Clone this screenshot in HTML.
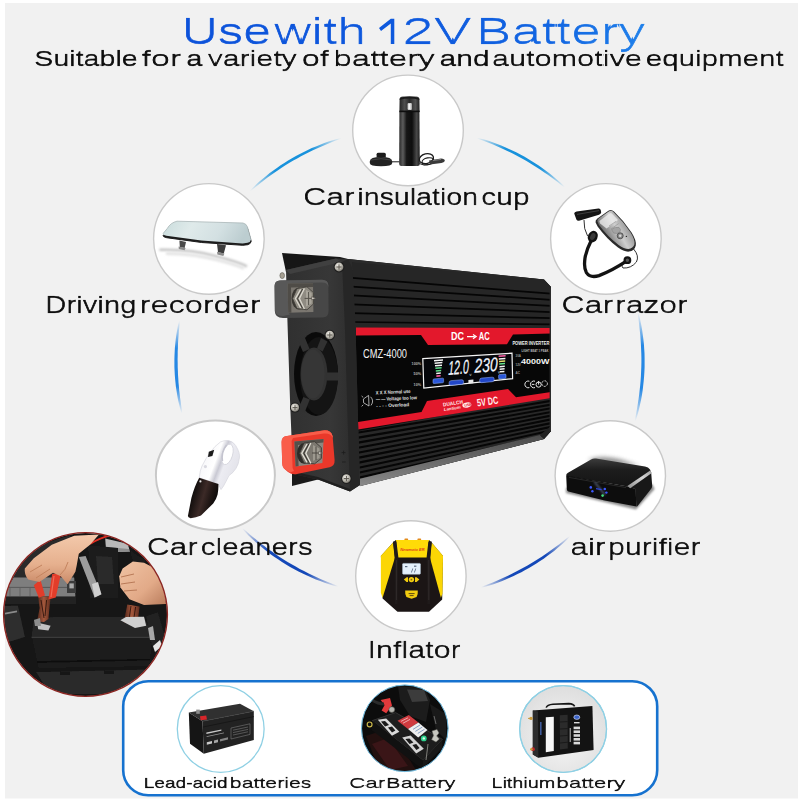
<!DOCTYPE html>
<html>
<head>
<meta charset="utf-8">
<title>Use with 12V Battery</title>
<style>
html,body{margin:0;padding:0;background:#fff;}
body{width:800px;height:800px;overflow:hidden;font-family:"Liberation Sans",sans-serif;}
svg{display:block;}
text{font-family:"Liberation Sans",sans-serif;}
</style>
</head>
<body>
<svg width="800" height="800" viewBox="0 0 800 800">
<defs>
  <linearGradient id="gTitle" gradientUnits="userSpaceOnUse" x1="185" y1="0" x2="645" y2="0">
    <stop offset="0" stop-color="#0c52da"/>
    <stop offset="0.55" stop-color="#0e5ade"/>
    <stop offset="0.8" stop-color="#1266e2"/>
    <stop offset="1" stop-color="#1f80ea"/>
  </linearGradient>
</defs>
<!-- background -->
<rect x="0" y="0" width="800" height="800" fill="#ffffff"/>
<rect x="5" y="3" width="793" height="795.5" fill="#f1f1f1"/>
<defs>
<linearGradient id="ga1" gradientUnits="userSpaceOnUse" x1="250.0" y1="191.2" x2="341.4" y2="138.2"><stop offset="0" stop-color="#1892dc" stop-opacity="0"/><stop offset="0.3" stop-color="#1892dc" stop-opacity="1"/><stop offset="0.7" stop-color="#1892dc" stop-opacity="1"/><stop offset="1" stop-color="#1892dc" stop-opacity="0"/></linearGradient>
<linearGradient id="ga2" gradientUnits="userSpaceOnUse" x1="476.8" y1="137.9" x2="564.8" y2="187.3"><stop offset="0" stop-color="#1892dc" stop-opacity="0"/><stop offset="0.3" stop-color="#1892dc" stop-opacity="1"/><stop offset="0.7" stop-color="#1892dc" stop-opacity="1"/><stop offset="1" stop-color="#1892dc" stop-opacity="0"/></linearGradient>
<linearGradient id="ga3" gradientUnits="userSpaceOnUse" x1="179.5" y1="320.5" x2="182.0" y2="413.5"><stop offset="0" stop-color="#2688e4" stop-opacity="0"/><stop offset="0.3" stop-color="#2688e4" stop-opacity="1"/><stop offset="0.7" stop-color="#2688e4" stop-opacity="1"/><stop offset="1" stop-color="#2688e4" stop-opacity="0"/></linearGradient>
<linearGradient id="ga4" gradientUnits="userSpaceOnUse" x1="637.9" y1="312.5" x2="635.0" y2="421.4"><stop offset="0" stop-color="#2688e4" stop-opacity="0"/><stop offset="0.3" stop-color="#2688e4" stop-opacity="1"/><stop offset="0.7" stop-color="#2688e4" stop-opacity="1"/><stop offset="1" stop-color="#2688e4" stop-opacity="0"/></linearGradient>
<linearGradient id="ga5" gradientUnits="userSpaceOnUse" x1="242.3" y1="528.2" x2="338.4" y2="586.6"><stop offset="0" stop-color="#1448b8" stop-opacity="0"/><stop offset="0.3" stop-color="#1448b8" stop-opacity="1"/><stop offset="0.7" stop-color="#1448b8" stop-opacity="1"/><stop offset="1" stop-color="#1448b8" stop-opacity="0"/></linearGradient>
<linearGradient id="ga6" gradientUnits="userSpaceOnUse" x1="570.0" y1="536.1" x2="480.9" y2="587.5"><stop offset="0" stop-color="#1448b8" stop-opacity="0"/><stop offset="0.3" stop-color="#1448b8" stop-opacity="1"/><stop offset="0.7" stop-color="#1448b8" stop-opacity="1"/><stop offset="1" stop-color="#1448b8" stop-opacity="0"/></linearGradient>
</defs>
<!-- ring arcs -->
<g id="ring">
<path d="M249.8 191.0 L252.9 187.7 L256.1 184.6 L259.4 181.6 L262.8 178.7 L266.2 175.9 L269.7 173.1 L273.3 170.5 L276.9 167.9 L280.6 165.3 L284.3 162.9 L288.1 160.5 L292.0 158.3 L295.9 156.1 L299.8 153.9 L303.8 151.9 L307.8 150.0 L311.8 148.1 L315.9 146.4 L320.1 144.7 L324.3 143.1 L328.5 141.6 L332.7 140.2 L337.0 139.0 L341.3 137.9 L341.5 138.4 L337.3 140.1 L333.2 141.6 L329.1 143.3 L325.0 144.9 L320.9 146.7 L316.9 148.5 L312.9 150.3 L308.9 152.2 L304.9 154.2 L301.0 156.3 L297.2 158.4 L293.3 160.6 L289.5 162.8 L285.8 165.1 L282.0 167.5 L278.4 169.9 L274.7 172.4 L271.1 175.0 L267.5 177.6 L264.0 180.3 L260.5 183.0 L257.1 185.8 L253.7 188.6 L250.2 191.3Z" fill="url(#ga1)"/>
<path d="M476.9 137.7 L481.1 138.7 L485.1 139.8 L489.2 141.1 L493.2 142.5 L497.2 144.0 L501.2 145.5 L505.1 147.2 L509.0 148.9 L512.9 150.7 L516.7 152.6 L520.4 154.6 L524.2 156.6 L527.9 158.8 L531.5 161.0 L535.1 163.2 L538.7 165.6 L542.2 168.0 L545.6 170.5 L549.0 173.1 L552.4 175.7 L555.6 178.4 L558.9 181.2 L562.0 184.1 L565.0 187.1 L564.6 187.5 L561.2 184.9 L557.9 182.3 L554.6 179.8 L551.2 177.3 L547.8 174.8 L544.3 172.4 L540.8 170.0 L537.3 167.7 L533.7 165.4 L530.1 163.2 L526.5 161.1 L522.9 159.0 L519.2 157.0 L515.5 155.0 L511.7 153.1 L507.9 151.2 L504.1 149.4 L500.3 147.7 L496.4 146.0 L492.5 144.3 L488.6 142.8 L484.7 141.2 L480.7 139.8 L476.8 138.2Z" fill="url(#ga2)"/>
<path d="M179.3 320.4 L178.2 324.2 L177.5 328.0 L176.8 331.9 L176.2 335.8 L175.7 339.7 L175.3 343.6 L174.9 347.5 L174.7 351.4 L174.5 355.4 L174.4 359.3 L174.4 363.2 L174.4 367.2 L174.6 371.1 L174.8 375.0 L175.1 378.9 L175.5 382.8 L175.9 386.8 L176.5 390.6 L177.1 394.5 L177.8 398.4 L178.6 402.2 L179.5 406.1 L180.5 409.9 L181.7 413.6 L182.2 413.5 L181.8 409.6 L181.2 405.7 L180.7 401.9 L180.1 398.0 L179.7 394.2 L179.2 390.3 L178.9 386.4 L178.5 382.6 L178.3 378.7 L178.0 374.8 L177.9 370.9 L177.7 367.1 L177.7 363.2 L177.6 359.3 L177.7 355.4 L177.7 351.6 L177.9 347.7 L178.0 343.8 L178.2 339.9 L178.5 336.0 L178.8 332.2 L179.2 328.3 L179.6 324.4 L179.8 320.5Z" fill="url(#ga3)"/>
<path d="M638.1 312.4 L639.5 316.8 L640.5 321.3 L641.4 325.8 L642.2 330.4 L642.8 334.9 L643.4 339.5 L643.9 344.1 L644.2 348.7 L644.5 353.3 L644.6 357.9 L644.6 362.5 L644.6 367.2 L644.4 371.8 L644.1 376.4 L643.7 381.0 L643.2 385.6 L642.7 390.1 L642.0 394.7 L641.2 399.2 L640.2 403.8 L639.2 408.3 L638.1 412.7 L636.8 417.2 L635.3 421.5 L634.8 421.4 L635.5 416.8 L636.4 412.3 L637.2 407.8 L637.9 403.3 L638.6 398.8 L639.2 394.3 L639.7 389.8 L640.2 385.2 L640.6 380.7 L640.9 376.2 L641.1 371.6 L641.3 367.1 L641.4 362.5 L641.4 358.0 L641.3 353.4 L641.1 348.9 L640.9 344.3 L640.6 339.8 L640.3 335.2 L639.8 330.7 L639.3 326.1 L638.8 321.6 L638.2 317.1 L637.7 312.5Z" fill="url(#ga4)"/>
<path d="M242.1 528.4 L245.2 532.0 L248.5 535.4 L252.0 538.7 L255.5 541.9 L259.1 545.0 L262.7 548.0 L266.4 551.0 L270.2 553.9 L274.1 556.7 L278.0 559.3 L282.0 562.0 L286.0 564.5 L290.1 566.9 L294.3 569.2 L298.5 571.5 L302.7 573.6 L307.0 575.6 L311.4 577.6 L315.8 579.4 L320.2 581.1 L324.6 582.8 L329.1 584.3 L333.7 585.7 L338.3 586.8 L338.5 586.3 L334.1 584.5 L329.7 582.8 L325.3 581.0 L321.0 579.2 L316.7 577.2 L312.4 575.3 L308.2 573.2 L304.0 571.1 L299.8 568.9 L295.7 566.6 L291.6 564.3 L287.6 561.9 L283.6 559.4 L279.6 556.9 L275.7 554.3 L271.9 551.6 L268.0 548.9 L264.3 546.1 L260.5 543.2 L256.9 540.2 L253.2 537.2 L249.6 534.2 L246.1 531.1 L242.4 528.1Z" fill="url(#ga5)"/>
<path d="M570.1 536.3 L567.2 539.5 L564.0 542.4 L560.8 545.3 L557.5 548.1 L554.1 550.9 L550.7 553.6 L547.2 556.1 L543.7 558.7 L540.1 561.1 L536.4 563.5 L532.7 565.8 L529.0 568.0 L525.2 570.1 L521.4 572.2 L517.5 574.1 L513.6 576.0 L509.6 577.8 L505.7 579.5 L501.6 581.2 L497.6 582.7 L493.5 584.2 L489.4 585.5 L485.2 586.8 L481.0 587.7 L480.8 587.3 L484.8 585.6 L488.8 584.0 L492.8 582.4 L496.8 580.7 L500.7 579.0 L504.6 577.2 L508.5 575.4 L512.4 573.5 L516.2 571.6 L520.0 569.6 L523.8 567.5 L527.5 565.4 L531.2 563.2 L534.9 561.0 L538.5 558.7 L542.1 556.4 L545.7 554.0 L549.2 551.5 L552.7 549.0 L556.1 546.5 L559.6 543.9 L563.0 541.2 L566.3 538.5 L569.8 535.9Z" fill="url(#ga6)"/>
</g>
<!-- title -->
<defs>
<mask id="mt0" maskUnits="userSpaceOnUse" x="180" y="7" width="94" height="51"><text x="182.45" y="44.0" font-size="36.6" fill="#fff" stroke="#fff" stroke-width="0.55" textLength="89.55" lengthAdjust="spacingAndGlyphs">Use</text></mask>
<mask id="mt1" maskUnits="userSpaceOnUse" x="269" y="7" width="99" height="51"><text x="274.93" y="44.0" font-size="36.6" fill="#fff" stroke="#fff" stroke-width="0.55" textLength="92.23" lengthAdjust="spacingAndGlyphs">with</text></mask>
<mask id="mt2" maskUnits="userSpaceOnUse" x="400" y="7" width="77" height="51"><text x="403.33" y="44.0" font-size="36.6" fill="#fff" stroke="#fff" stroke-width="0.55" textLength="69.64" lengthAdjust="spacingAndGlyphs">2V</text></mask>
<mask id="mt3" maskUnits="userSpaceOnUse" x="475" y="7" width="175" height="51"><text x="476.95" y="44.0" font-size="36.6" fill="#fff" stroke="#fff" stroke-width="0.55" textLength="169.57" lengthAdjust="spacingAndGlyphs">Battery</text></mask>
<mask id="mt4" maskUnits="userSpaceOnUse" x="30" y="44" width="112" height="31"><text x="34.86" y="66.2" font-size="22.5" fill="#fff" stroke="#fff" stroke-width="0.67" textLength="103.34" lengthAdjust="spacingAndGlyphs">Suitable</text></mask>
<mask id="mt5" maskUnits="userSpaceOnUse" x="136" y="44" width="50" height="31"><text x="142.37" y="66.2" font-size="22.5" fill="#fff" stroke="#fff" stroke-width="0.67" textLength="39.81" lengthAdjust="spacingAndGlyphs">for</text></mask>
<mask id="mt6" maskUnits="userSpaceOnUse" x="182" y="44" width="26" height="31"><text x="186.80" y="66.2" font-size="22.5" fill="#fff" stroke="#fff" stroke-width="0.67" textLength="16.08" lengthAdjust="spacingAndGlyphs">a</text></mask>
<mask id="mt7" maskUnits="userSpaceOnUse" x="202" y="44" width="100" height="31"><text x="208.40" y="66.2" font-size="22.5" fill="#fff" stroke="#fff" stroke-width="0.67" textLength="89.03" lengthAdjust="spacingAndGlyphs">variety</text></mask>
<mask id="mt8" maskUnits="userSpaceOnUse" x="298" y="44" width="37" height="31"><text x="302.52" y="66.2" font-size="22.5" fill="#fff" stroke="#fff" stroke-width="0.67" textLength="26.89" lengthAdjust="spacingAndGlyphs">of</text></mask>
<mask id="mt9" maskUnits="userSpaceOnUse" x="330" y="44" width="110" height="31"><text x="334.18" y="66.2" font-size="22.5" fill="#fff" stroke="#fff" stroke-width="0.67" textLength="101.41" lengthAdjust="spacingAndGlyphs">battery</text></mask>
<mask id="mt10" maskUnits="userSpaceOnUse" x="435" y="44" width="59" height="31"><text x="440.12" y="66.2" font-size="22.5" fill="#fff" stroke="#fff" stroke-width="0.67" textLength="50.18" lengthAdjust="spacingAndGlyphs">and</text></mask>
<mask id="mt11" maskUnits="userSpaceOnUse" x="488" y="44" width="158" height="31"><text x="492.67" y="66.2" font-size="22.5" fill="#fff" stroke="#fff" stroke-width="0.67" textLength="149.92" lengthAdjust="spacingAndGlyphs">automotive</text></mask>
<mask id="mt12" maskUnits="userSpaceOnUse" x="642" y="44" width="148" height="31"><text x="646.38" y="66.2" font-size="22.5" fill="#fff" stroke="#fff" stroke-width="0.67" textLength="137.97" lengthAdjust="spacingAndGlyphs">equipment</text></mask>
</defs>
<g id="title">
<text x="180.79" y="44.0" font-size="36.6" fill="url(#gTitle)" stroke="url(#gTitle)" stroke-width="0.55" textLength="89.55" lengthAdjust="spacingAndGlyphs" mask="url(#mt0)">Use</text>
<text x="273.01" y="44.0" font-size="36.6" fill="url(#gTitle)" stroke="url(#gTitle)" stroke-width="0.55" textLength="92.23" lengthAdjust="spacingAndGlyphs" mask="url(#mt1)">with</text>
<text x="400.96" y="44.0" font-size="36.6" fill="url(#gTitle)" stroke="url(#gTitle)" stroke-width="0.55" textLength="69.64" lengthAdjust="spacingAndGlyphs" mask="url(#mt2)">2V</text>
<text x="474.73" y="44.0" font-size="36.6" fill="url(#gTitle)" stroke="url(#gTitle)" stroke-width="0.55" textLength="169.57" lengthAdjust="spacingAndGlyphs" mask="url(#mt3)">Battery</text>
<text x="33.85" y="66.2" font-size="22.5" fill="#0c0c0c" stroke="#0c0c0c" stroke-width="0.67" textLength="103.34" lengthAdjust="spacingAndGlyphs" mask="url(#mt4)">Suitable</text>
<text x="140.76" y="66.2" font-size="22.5" fill="#0c0c0c" stroke="#0c0c0c" stroke-width="0.67" textLength="39.81" lengthAdjust="spacingAndGlyphs" mask="url(#mt5)">for</text>
<text x="186.05" y="66.2" font-size="22.5" fill="#0c0c0c" stroke="#0c0c0c" stroke-width="0.67" textLength="16.08" lengthAdjust="spacingAndGlyphs" mask="url(#mt6)">a</text>
<text x="207.14" y="66.2" font-size="22.5" fill="#0c0c0c" stroke="#0c0c0c" stroke-width="0.67" textLength="89.03" lengthAdjust="spacingAndGlyphs" mask="url(#mt7)">variety</text>
<text x="301.26" y="66.2" font-size="22.5" fill="#0c0c0c" stroke="#0c0c0c" stroke-width="0.67" textLength="26.89" lengthAdjust="spacingAndGlyphs" mask="url(#mt8)">of</text>
<text x="332.63" y="66.2" font-size="22.5" fill="#0c0c0c" stroke="#0c0c0c" stroke-width="0.67" textLength="101.41" lengthAdjust="spacingAndGlyphs" mask="url(#mt9)">battery</text>
<text x="439.08" y="66.2" font-size="22.5" fill="#0c0c0c" stroke="#0c0c0c" stroke-width="0.67" textLength="50.18" lengthAdjust="spacingAndGlyphs" mask="url(#mt10)">and</text>
<text x="491.39" y="66.2" font-size="22.5" fill="#0c0c0c" stroke="#0c0c0c" stroke-width="0.67" textLength="149.92" lengthAdjust="spacingAndGlyphs" mask="url(#mt11)">automotive</text>
<text x="645.21" y="66.2" font-size="22.5" fill="#0c0c0c" stroke="#0c0c0c" stroke-width="0.67" textLength="137.97" lengthAdjust="spacingAndGlyphs" mask="url(#mt12)">equipment</text>
<path d="M379 28 L390.8 18.8 L394.3 18.8 L394.3 44 L390.8 44 L390.8 23.4 L381 31 Z" fill="url(#gTitle)"/>
</g>
<!-- circles -->
<g id="circles" fill="#ffffff" stroke="#c9c9c9" stroke-width="1.4">
<circle cx="408" cy="130.4" r="55.3"/>
<circle cx="208.9" cy="238.9" r="55.3"/>
<circle cx="605.9" cy="238.9" r="55.3"/>
<ellipse cx="215.4" cy="475.2" rx="59.5" ry="54.8" stroke-width="2"/>
<circle cx="610.3" cy="476" r="55.2"/>
<circle cx="410.9" cy="576" r="55.2"/>
</g>
<!-- inverter -->
<defs>
  <linearGradient id="gPanel" x1="0" y1="0" x2="1" y2="0">
    <stop offset="0" stop-color="#303030"/>
    <stop offset="0.6" stop-color="#373737"/>
    <stop offset="1" stop-color="#2a2a2a"/>
  </linearGradient>
  <linearGradient id="gBand" x1="0" y1="0" x2="0" y2="1">
    <stop offset="0" stop-color="#4a4a4a"/>
    <stop offset="1" stop-color="#8a8a8a"/>
  </linearGradient>
  <radialGradient id="gScrew" cx="0.4" cy="0.35" r="0.7">
    <stop offset="0" stop-color="#f2f0ea"/>
    <stop offset="0.6" stop-color="#b9b6ad"/>
    <stop offset="1" stop-color="#6d6a63"/>
  </radialGradient>
  <linearGradient id="gNut" x1="0" y1="0" x2="1" y2="1">
    <stop offset="0" stop-color="#d8d6cf"/>
    <stop offset="0.5" stop-color="#a19e96"/>
    <stop offset="1" stop-color="#6b6862"/>
  </linearGradient>
  <clipPath id="cSide"><path d="M352 262 L544 279.5 L551 287 L551 431 L544 439 L360 486 Z"/></clipPath>
</defs>
<g id="inverter">
  <!-- back flange / top-left dark -->
  <path d="M282 253 L340 257 L348 259 L352 270 L286 272 Z" fill="#161616"/>
  <path d="M292 468 L292 486 L320 479 Z" fill="#1a1a1a"/>
  <!-- side face base -->
  <path d="M348 259 L544 279.5 L551 287 L551 431 L544 439 L360 486 L352 300 Z" fill="#0b0b0b"/>
  <!-- top chamfer band -->
  <path d="M348 259 L544 279.5 L551 287 L548 290 L352 270 Z" fill="#2b2b2b"/>
  <!-- ribs -->
  <g clip-path="url(#cSide)">
    <path d="M352 262 L552 280 L552 330 L352 330 Z" fill="#262626"/>
    <path d="M352 432 L552 396 L552 445 L352 490 Z" fill="#282828"/>
    <g stroke="#050505" stroke-width="1.7" fill="none">
    <path d="M352 277.8 L552 293.8"/>
    <path d="M352 286.6 L552 299.9"/>
    <path d="M352 295.4 L552 306.0"/>
    <path d="M352 304.3 L552 312.1"/>
    <path d="M352 313.1 L552 318.2"/>
    <path d="M352 322.0 L552 324.3"/>
    </g>
    <g stroke="#060606" stroke-width="2.1" fill="none">
    <path d="M354 433.3 L552 400.7"/>
    <path d="M354 438.4 L552 404.4"/>
    <path d="M354 443.4 L552 408.1"/>
    <path d="M354 448.5 L552 411.8"/>
    <path d="M354 453.5 L552 415.5"/>
    <path d="M354 458.6 L552 419.2"/>
    <path d="M354 463.6 L552 422.9"/>
    <path d="M354 468.7 L552 426.6"/>
    <path d="M354 473.8 L552 430.3"/>
    <path d="M354 478.8 L552 434.0"/>
    </g>
  </g>
  <!-- bottom light band -->
  <path d="M358 479.2 L540 435 L544 439 L360 486.2 Z" fill="url(#gBand)"/>
  <path d="M544 439 L551 431 L551 426 L540 435 Z" fill="#222"/>
  <!-- label black -->
  <path d="M356 334 L551 333 L551 394 L358 424 Z" fill="#070707"/>
  <!-- red stripes -->
  <path d="M356 327.5 L551 328 L551 333.6 L513 334.4 L507 344.2 L428 345 L421 335 L356 335.6 Z" fill="#e3182c"/>
  <path d="M358 422 L421.5 412 L427 401 L508 389 L516 397.3 L551 392 L551 398 L358 429.6 Z" fill="#e3182c"/>
  <!-- right edge highlight -->
  <path d="M549.6 289 L551 287 L551 431 L549.6 432 Z" fill="#2a2a2a"/>

  <!-- label text -->
  <text x="363" y="357.6" font-size="12.6" fill="#f4f4f4" textLength="44" lengthAdjust="spacingAndGlyphs">CMZ-4000</text>
  <text x="451" y="340.4" font-size="10.8" font-weight="bold" fill="#ffffff" textLength="13" lengthAdjust="spacingAndGlyphs">DC</text>
  <path d="M467 336.6 L474.6 336.6 M473 334.4 L476.2 336.6 L473 338.8" stroke="#ffffff" stroke-width="1.2" fill="none"/>
  <text x="478.8" y="340.4" font-size="10.8" font-weight="bold" fill="#ffffff" textLength="11" lengthAdjust="spacingAndGlyphs">AC</text>
  <text x="0" y="0" font-size="10.5" font-weight="bold" fill="#fff0f0" textLength="21.5" lengthAdjust="spacingAndGlyphs" transform="translate(477.5 406.6) rotate(-8.5)">5V DC</text>
  <g fill="#ffe9e9" transform="translate(444 411) rotate(-8.5)">
    <text x="0" y="-4.5" font-size="5.2" font-weight="bold" textLength="20" lengthAdjust="spacingAndGlyphs">DUALCH</text>
    <text x="0" y="0" font-size="4" font-weight="bold" font-style="italic" textLength="17" lengthAdjust="spacingAndGlyphs">Lantium</text>
    <ellipse cx="23.5" cy="-2.5" rx="4.6" ry="2.6"/>
    <text x="20.8" y="-1.2" font-size="3.6" font-weight="bold" fill="#e3182c">USB</text>
  </g>
  <text x="512.4" y="345.2" font-size="5" font-weight="bold" fill="#f0f0f0" textLength="37" lengthAdjust="spacingAndGlyphs">POWER INVERTER</text>
  <text x="521.5" y="351.6" font-size="3" font-weight="bold" fill="#bdbdbd" textLength="27" lengthAdjust="spacingAndGlyphs">LIGHT BEAT 1 PEAK</text>
  <text x="521" y="364" font-size="7.6" font-weight="bold" fill="#f4f4f4" textLength="28.4" lengthAdjust="spacingAndGlyphs">4000W</text>
  <g fill="#9a9a9a" font-size="3" font-weight="bold">
    <text x="515.5" y="357">30A</text><text x="515.5" y="365.6">12V</text><text x="515.5" y="374.4">AC</text>
    </g><g fill="#b5b5b5" font-size="4.2" font-weight="bold"><text x="411.6" y="364.6" textLength="9.4" lengthAdjust="spacingAndGlyphs">100%</text><text x="413.6" y="375.4" textLength="7.4" lengthAdjust="spacingAndGlyphs">50%</text><text x="413.6" y="386.2" textLength="7.4" lengthAdjust="spacingAndGlyphs">10%</text>
  </g>
  <!-- CE marks -->
  <g fill="none" stroke="#e6e6e6" stroke-width="1">
    <path d="M529.4 381.2 A3.4 3.4 0 1 0 529.4 387.6"/>
    <path d="M535 381.2 A3.4 3.4 0 1 0 535 387.6 M531.8 384.4 L534.4 384.4"/>
    <circle cx="538.6" cy="384.6" r="2.6"/>
    <path d="M538.6 381 L538.6 384.6"/>
    <circle cx="544.6" cy="383.6" r="2.8" stroke-dasharray="2 1.2"/>
  </g>
  <!-- left-bottom legend -->
  <g stroke="#d0d0d0" stroke-width="0.8" fill="none">
    <path d="M363.4 399 L368.6 395.4 L369 406 L363.6 402.8 Z"/>
    <path d="M370.6 396.8 Q374.4 400.8 371 405.4"/>
    <path d="M363.2 397.4 L361.6 396 M363.2 404.8 L361.6 406.4"/>
  </g>
  <g fill="#e2e2e2" font-size="4.8" font-weight="bold" transform="rotate(-2.5 376 401)">
    <text x="376" y="394.4" textLength="35" lengthAdjust="spacingAndGlyphs">X X X Normal use</text>
    <text x="376" y="401" textLength="41" lengthAdjust="spacingAndGlyphs">— — Voltage too low</text>
    <text x="376" y="407.6" textLength="33" lengthAdjust="spacingAndGlyphs">- - - - Overload</text>
  </g>

  <!-- LCD -->
  <path d="M422.8 358.6 L512 353.2 L512.6 378.6 L423.8 388.2 Z" fill="#05060a" stroke="#f4f4f4" stroke-width="1.2"/>
  <g transform="matrix(1 -0.085 0 1 0 36.4)">
    <!-- left bars -->
    <g>
      <rect x="434" y="360.4" width="9" height="1.5" fill="#f4f4f4"/>
      <rect x="434.6" y="363" width="7.8" height="1.5" fill="#f4f4f4"/>
      <rect x="435" y="365.6" width="7" height="1.5" fill="#f4f4f4"/>
      <rect x="435.4" y="368.2" width="6.2" height="1.5" fill="#5fe08a"/>
      <rect x="435.8" y="370.8" width="5.4" height="1.5" fill="#5fe08a"/>
      <rect x="436.2" y="373.4" width="4.6" height="1.5" fill="#f4f4f4"/>
      <rect x="436.4" y="376" width="4.2" height="1.6" fill="#ff5fa8"/>
      <rect x="433" y="379.4" width="10.6" height="4.6" rx="1" fill="#2a56d8" stroke="#8fb2ff" stroke-width="0.5"/>
    </g>
    <!-- digits -->
    <text x="448.2" y="376.8" font-size="19.6" font-style="italic" fill="#f4f7ff" stroke="#f4f7ff" stroke-width="0.25" textLength="20.6" lengthAdjust="spacingAndGlyphs">12.0</text>
    <text x="474.6" y="376.8" font-size="19.6" font-style="italic" fill="#f4f7ff" stroke="#f4f7ff" stroke-width="0.25" textLength="23" lengthAdjust="spacingAndGlyphs">230</text>
    <text x="469.6" y="379.4" font-size="4" fill="#dfe6ff">v</text>
    <text x="498" y="379.4" font-size="4" fill="#dfe6ff">v</text>
    <rect x="449" y="382.6" width="14.6" height="4.6" rx="2" fill="#2247c8" stroke="#9db8ff" stroke-width="0.5"/>
    <rect x="468.4" y="383.4" width="5" height="3.6" fill="#e8e8e8"/>
    <rect x="479.6" y="382.6" width="14.6" height="4.6" rx="2" fill="#2247c8" stroke="#9db8ff" stroke-width="0.5"/>
    <!-- right bars -->
    <g>
      <rect x="498.6" y="361.6" width="7" height="1.5" fill="#ff5fa8"/>
      <rect x="498.8" y="364.2" width="6.6" height="1.5" fill="#f4f4f4"/>
      <rect x="499" y="366.8" width="6.2" height="1.5" fill="#e8e070"/>
      <rect x="499.2" y="369.4" width="5.8" height="1.5" fill="#5fe08a"/>
      <rect x="499.4" y="372" width="5.4" height="1.5" fill="#f4f4f4"/>
      <rect x="499.6" y="374.6" width="5" height="1.5" fill="#f4f4f4"/>
      <rect x="499.8" y="377.2" width="4.6" height="1.5" fill="#f4f4f4"/>
      <rect x="498.6" y="380.6" width="7.4" height="4.4" rx="1" fill="#2a56d8" stroke="#8fb2ff" stroke-width="0.5"/>
    </g>
  </g>
  <!-- end panel -->
  <path d="M286 270 L336 258.4 L348 259 L352.4 268 L355.6 330 L358 420 L360 485 L350 491.4 L318 479.6 L293 474 L290 400 L287.4 320 Z" fill="url(#gPanel)"/>
  <path d="M348 259 L352.4 268 L355.6 330 L358 420 L360 485 L350 491.4 L347.6 420 L345 330 L342 262 Z" fill="#262626"/>
  <path d="M286 270 L336 258.4 L342 262 L290 274 Z" fill="#404040"/>
  <path d="M293 474 L318 479.6 L350 491.4 L350 489 L318 477 L293 471.6 Z" fill="#1f1f1f"/>
  <!-- fan -->
  <ellipse cx="316" cy="374" rx="22" ry="42" fill="#0a0a0a"/>
  <ellipse cx="319" cy="376" rx="19" ry="39" fill="#141414"/>
  <g fill="#323232">
    <ellipse cx="314" cy="374" rx="13.4" ry="26.4"/>
    <path d="M303 352 L298.4 341 L304.4 336.4 L309.6 349 Z"/>
    <path d="M326 372.4 L338 372.4 L338 380.6 L326.6 380.6 Z"/>
    <path d="M303.4 397 L298.6 408 L304.6 412.6 L309.8 399.6 Z"/>
    <path d="M317 348.6 L321 338 L327.4 341.6 L322.6 351.4 Z"/>
  </g>
  <ellipse cx="313" cy="374" rx="11.6" ry="24.4" fill="#363636"/>
  <!-- screws -->
  <g>
    <circle cx="339" cy="267" r="5.4" fill="#1c1c1c"/><circle cx="339" cy="267" r="4.4" fill="url(#gScrew)"/>
    <path d="M336.4 267 L341.6 267 M339 264.4 L339 269.6" stroke="#5a574f" stroke-width="1"/>
    <circle cx="329.8" cy="335" r="5.2" fill="#1c1c1c"/><circle cx="329.8" cy="335" r="4.3" fill="url(#gScrew)"/>
    <path d="M327.2 335 L332.4 335 M329.8 332.4 L329.8 337.6" stroke="#5a574f" stroke-width="1"/>
    <circle cx="295" cy="407.6" r="5" fill="#1c1c1c"/><circle cx="295" cy="407.6" r="4.1" fill="url(#gScrew)"/>
    <path d="M292.6 407.6 L297.4 407.6 M295 405.2 L295 410" stroke="#5a574f" stroke-width="1"/>
    <circle cx="346.4" cy="478.6" r="5.2" fill="#1c1c1c"/><circle cx="346.4" cy="478.6" r="4.3" fill="url(#gScrew)"/>
    <path d="M343.8 478.6 L349 478.6 M346.4 476 L346.4 481.2" stroke="#5a574f" stroke-width="1"/>
    <ellipse cx="282.2" cy="275.6" rx="2.3" ry="3" fill="#a59f92" stroke="#5d5a52" stroke-width="0.6"/>
  </g>
  <!-- top terminal (grey cover) -->
  <path d="M274.6 286 Q274.6 281 280 280.6 L322 279.8 Q328.4 279.8 328.4 286 L328.6 311 Q328.6 317.4 322.6 317.6 L283 318 Q275 318 274.8 311 Z" fill="#474747"/>
  <path d="M274.6 286 Q274.6 281 280 280.6 L322 279.8 Q328.4 279.8 328.4 286 L328.4 287 Q327.4 282.6 322 282.6 L290 283 L288 283.6 L288 312 L290 314.6 L283 316 Q276 316 275 311 Z" fill="#585858"/>
  <path d="M287.6 283.6 L313 283.2 L313.4 312 L288.2 312.8 Z" fill="#7b7770"/>
  <path d="M287.6 283.6 L313 283.2 L313.2 287 L291 287.6 L291.4 312.7 L288.2 312.8 Z" fill="#4f4c47"/>
  <ellipse cx="299" cy="298.4" rx="7.4" ry="11" fill="#3a3732"/>
  <path d="M297 288.6 L307 286.8 L313.4 292.6 L313.4 304 L307 309.8 L297 308.6 L292.6 298.6 Z" fill="#8f8b82" stroke="#3e3b36" stroke-width="0.8"/>
  <path d="M300.6 289.4 L295.4 298.6 L300.6 308 M304.4 288.4 L299.4 298.6 L304.4 309" stroke="#d9d6cc" stroke-width="1.3" fill="none"/>
  <path d="M302.6 289 L297.4 298.6 L302.6 308.4" stroke="#3e3b36" stroke-width="1" fill="none"/>
  <path d="M306 290 L311.6 293 L311.6 303.6 L306 306.6 Z" fill="#a9a59b"/>
  <path d="M308.6 292 L308.6 305 M304.6 298.4 L312 298.4" stroke="#56524b" stroke-width="1"/>
  <path d="M311.6 296.8 L316 298.2 L311.6 299.8 Z" fill="#dcd9d0" stroke="#3e3b36" stroke-width="0.5"/>
  <!-- bottom terminal (red cover) -->
  <path d="M281.6 442 Q281.6 436.6 287 436 L323 430.4 Q331 429.6 332.6 436 L334.6 460 Q335 466 329.6 467.2 L297 474 Q291.6 474.8 288 472 L284 468.4 Q282.2 466.6 282.2 463 Z" fill="#ea382a"/>
  <path d="M281.6 442 Q281.6 436.6 287 436 L323 430.4 Q331 429.6 332.6 436 L332.8 438 Q330.6 433 324 433.6 L293 438 L291.6 441 L292.6 468 L294 471 L290 472.6 L284 468.4 Q282.2 466.6 282.2 463 Z" fill="#f95d4a"/>
  <path d="M294.4 441.6 L323.6 439 L322.4 463 L295.6 466.4 Z" fill="#8c8780"/>
  <path d="M294.4 441.6 L323.6 439 L323.4 442.6 L298 445 L298.6 466 L295.6 466.4 Z" fill="#55514b"/>
  <ellipse cx="304" cy="453.4" rx="7" ry="10.4" fill="#2f2c28"/>
  <path d="M304 443 L314.6 441.6 L321.4 447.6 L321.4 458.4 L314.6 463.8 L304 463 L299.6 453.2 Z" fill="#7c7870" stroke="#35322d" stroke-width="0.8"/>
  <path d="M307 444 L301.8 453.2 L307 462.4 M310.8 443 L305.8 453.2 L310.8 463.4" stroke="#e3e0d6" stroke-width="1.3" fill="none"/>
  <path d="M309 443.6 L303.8 453.2 L309 462.8" stroke="#35322d" stroke-width="1" fill="none"/>
  <path d="M313 445 L319.6 448.4 L319.6 458 L313 461 Z" fill="#9d998f"/>
  <path d="M316 446.6 L316 460 M312 453 L320 453" stroke="#4a4640" stroke-width="1"/>
  <path d="M318.6 451.6 L322.4 453 L318.6 454.6 Z" fill="#e6e3da" stroke="#35322d" stroke-width="0.5"/>
  <path d="M341.6 452.6 L345.6 452.6 M343.6 450.6 L343.6 454.6 M342 462 L345.6 462" stroke="#1d1d1d" stroke-width="0.8"/>

</g>
<!-- icon: cup -->
<defs>
  <linearGradient id="gCup" x1="0" y1="0" x2="1" y2="0">
    <stop offset="0" stop-color="#2a2a2a"/>
    <stop offset="0.18" stop-color="#5c5c5c"/>
    <stop offset="0.36" stop-color="#161616"/>
    <stop offset="0.62" stop-color="#0d0d0d"/>
    <stop offset="0.85" stop-color="#4a4a4a"/>
    <stop offset="1" stop-color="#1c1c1c"/>
  </linearGradient>
  <linearGradient id="gCupLid" x1="0" y1="0" x2="1" y2="0">
    <stop offset="0" stop-color="#242424"/>
    <stop offset="0.25" stop-color="#4e4e4e"/>
    <stop offset="0.5" stop-color="#2a2a2a"/>
    <stop offset="0.8" stop-color="#525252"/>
    <stop offset="1" stop-color="#202020"/>
  </linearGradient>
</defs>
<g id="cup">
  <path d="M399.4 112 L419.4 112 L419.8 164 Q419.8 166 417.6 166 L401.4 166 Q399.2 166 399.2 164 Z" fill="url(#gCup)"/>
  <path d="M399.6 99.6 Q399.6 96.8 403 96.6 L416 96.6 Q419.4 96.8 419.4 99.6 L419.6 112 L399.4 112 Z" fill="url(#gCupLid)"/>
  <path d="M399.6 99.8 Q409.5 97 419.4 99.8 L419.4 98.8 Q416 96.4 409.5 96.4 Q403 96.4 399.6 98.8 Z" fill="#1a1a1a"/>
  <rect x="399.4" y="110.6" width="20.2" height="1.6" fill="#0e0e0e"/>
  <rect x="407.6" y="103" width="4.2" height="7" rx="1" fill="#cfcfcf"/>
  <rect x="408.6" y="104" width="1.6" height="5" fill="#f4f4f4"/>
  <!-- lid -->
  <path d="M376.6 157.6 L376.6 154.2 Q376.6 152.8 378.6 152.8 L383.8 152.8 Q385.8 152.8 385.8 154.2 L385.8 157.6 Z" fill="#1b1b1b"/>
  <path d="M369.8 161.4 Q369.8 157 381 157 Q392.2 157 392.2 161.4 L392.2 163 Q392.2 166.2 381 166.2 Q369.8 166.2 369.8 163 Z" fill="#222222"/>
  <path d="M371 160 Q381 157.4 391 160" stroke="#4a4a4a" stroke-width="0.8" fill="none"/>
  <path d="M392 161.8 L399.4 161.8" stroke="#1a1a1a" stroke-width="1"/>
  <!-- cable -->
  <g fill="none" stroke="#1a1a1a">
    <ellipse cx="426.4" cy="158.6" rx="7.2" ry="4.8" stroke-width="1.3" transform="rotate(-14 426.4 158.6)"/>
    <ellipse cx="428" cy="161.2" rx="6" ry="3.4" stroke-width="1.1" transform="rotate(-10 428 161.2)"/>
    <path d="M419.6 163.6 Q424 166.4 430 164.4" stroke-width="1"/>
  </g>
  <path d="M429 160.4 L441 158.4 Q444.8 158.6 444.8 160.6 Q444.8 162.4 441.4 163 L430 164.6 Z" fill="#3a3a3a"/>
  <path d="M433 160.6 L441 159.4" stroke="#8a8a8a" stroke-width="0.8"/>
</g>
<!-- icon: driving recorder mirror -->
<defs>
  <linearGradient id="gMirror" x1="0" y1="0" x2="1" y2="0.15">
    <stop offset="0" stop-color="#c9dcdc"/>
    <stop offset="0.35" stop-color="#dfeaea"/>
    <stop offset="0.7" stop-color="#d3e0e2"/>
    <stop offset="1" stop-color="#bccdd0"/>
  </linearGradient>
  <filter id="fBlur1" x="-20%" y="-50%" width="140%" height="200%"><feGaussianBlur stdDeviation="1.1"/></filter>
  <filter id="fBlur2" x="-20%" y="-50%" width="140%" height="200%"><feGaussianBlur stdDeviation="2"/></filter>
</defs>
<g id="mirror">
  <path d="M159.4 249.8 Q190 249 215 256 Q238 262 247 266.4" stroke="#c4c4c4" stroke-width="2.6" fill="none" filter="url(#fBlur1)"/>
  <path d="M166 253.4 Q196 254 216 259.6 Q234 264 244 268.4" stroke="#e4e4e4" stroke-width="3" fill="none" filter="url(#fBlur1)"/>
  <path d="M179.4 240.6 L186 242 L184.6 248 L179.8 247 Z" fill="#4a4a4a"/>
  <path d="M178.6 246.6 L185.6 248 L184.6 250.2 L178.8 249 Z" fill="#8a8a8a"/>
  <path d="M217 244 L226 245.2 L223.8 253.6 L218 252.2 Z" fill="#3d3d3d"/>
  <path d="M217 251.8 L224.4 253.4 L223.4 256 L217.4 254.6 Z" fill="#8a8a8a"/>
  <path d="M177 221.2 L243 223 Q246.4 223.8 247.4 226.8 L251 239.4 Q250.6 242 247.6 242.8 L242.6 243.4 L201.4 240.6 L166.4 235.8 Q162.4 234.8 163 233.6 L167.2 228.6 Q170.6 222.6 177 221.2 Z" fill="#1c1c1c" stroke="#1c1c1c" stroke-width="1" transform="translate(0.2 1.9)"/>
  <path d="M177 221.2 L243 223 Q246.4 223.8 247.4 226.8 L251 239.4 Q250.6 242 247.6 242.8 L242.6 243.4 L201.4 240.6 L166.4 235.8 Q162.4 234.8 163 233.6 L167.2 228.6 Q170.6 222.6 177 221.2 Z" fill="url(#gMirror)"/>
  <path d="M163 233.6 L167.2 228.6 Q170.6 222.6 177 221.2 L243 223 Q246.4 223.8 247.4 226.8 L251 239.4" stroke="#a9b6b8" stroke-width="0.8" fill="none"/>
</g>
<!-- icon: car razor -->
<defs>
  <linearGradient id="gRazor" gradientUnits="userSpaceOnUse" x1="600" y1="238" x2="628" y2="222">
    <stop offset="0" stop-color="#3c3c3c"/>
    <stop offset="0.3" stop-color="#8c8c8c"/>
    <stop offset="0.6" stop-color="#cfcfcf"/>
    <stop offset="1" stop-color="#8a8a8a"/>
  </linearGradient>
</defs>
<g id="razor">
  <!-- thin wires -->
  <path d="M584 220 Q583.6 229 587.6 236" stroke="#1a1a1a" stroke-width="0.9" fill="none"/>
  <path d="M633.6 249 Q639.6 256 636.4 262 Q631 268.6 623 268 Q620.6 265.6 625 262" stroke="#1a1a1a" stroke-width="0.9" fill="none"/>
  <!-- plug -->
  <path d="M574.2 213.6 Q574.4 212 576.6 211.6 L598.4 208.6 Q600.4 208.4 600.8 210.2 L601.2 212.6 Q601 214 599 214.8 L579 220.8 Q577 221 576.4 219.4 Z" fill="#151515"/>
  <path d="M577 214.4 L599 210.6" stroke="#4a4a4a" stroke-width="0.8"/>
  <!-- coil cord -->
  <path d="M591 241 Q586.4 250 585 258 Q583.6 268 586.4 272.6 Q590.4 278.4 599 275.6 Q612 270.6 625.6 261.6" stroke="#131313" stroke-width="3.3" fill="none" stroke-linecap="round"/>
  <ellipse cx="592.8" cy="236.6" rx="3.6" ry="4.8" fill="#3a3a3a" stroke="#131313" stroke-width="2.4" transform="rotate(25 592.8 236.6)"/>
  <ellipse cx="627.4" cy="260.2" rx="2.8" ry="2.8" fill="#555" stroke="#131313" stroke-width="2.2"/>
  <!-- razor body -->
  <path d="M595.6 222.6 Q595 220.4 597.4 218.6 L608.4 210.8 Q611.4 209 614 211.6 Q624 221 631.6 232.4 Q636.6 240.4 635.8 245.4 Q634.6 250.6 629 251.6 Q624 252 618 247.6 Q606 238 597.6 226.4 Z" fill="#2a2a2a"/>
  <path d="M597.4 221.4 Q597 219.6 599 218.2 L608.8 211.4 Q611.4 210 613.6 212.2 Q623.4 221.4 630.6 232.6 Q635.4 240.2 634.4 244.6 Q633 248.6 628.4 249 Q624 249 618.6 245 Q607 236 599 225 Z" fill="url(#gRazor)"/>
  <path d="M599.4 221 L609.4 213.4 Q611 212.6 612.4 214 L618 220 L606.6 228.6 L600 223.4 Z" fill="#efefef" opacity="0.75"/>
  <path d="M609 226 L616 221.4 M611 229 L618.6 223.6" stroke="#8d8d8d" stroke-width="0.6"/>
  <path d="M611.6 229.6 Q615 226 619 227.4 Q621.4 229 620 232 Q617 234.4 613.6 233 Z" fill="#a3a3a3" stroke="#7b7b7b" stroke-width="0.5"/>
  <circle cx="620.2" cy="235.8" r="3" fill="#8b8b8b" stroke="#4a4a4a" stroke-width="0.9"/>
  <circle cx="620.2" cy="235.8" r="1.2" fill="#d9d9d9"/>
  <circle cx="626.4" cy="236.4" r="0.7" fill="#2a2a2a"/>
</g>
<!-- icon: vacuum cleaner -->
<defs>
  <linearGradient id="gVacD" gradientUnits="userSpaceOnUse" x1="192" y1="495" x2="216" y2="502">
    <stop offset="0" stop-color="#100d0c"/>
    <stop offset="0.45" stop-color="#3c2a27"/>
    <stop offset="0.75" stop-color="#1f1614"/>
    <stop offset="1" stop-color="#0c0a0a"/>
  </linearGradient>
  <linearGradient id="gVacW" gradientUnits="userSpaceOnUse" x1="204" y1="455" x2="238" y2="468">
    <stop offset="0" stop-color="#f6f6f9"/>
    <stop offset="0.35" stop-color="#ffffff"/>
    <stop offset="0.5" stop-color="#c9c9d3"/>
    <stop offset="0.62" stop-color="#ececf2"/>
    <stop offset="1" stop-color="#e3e3ea"/>
  </linearGradient>
</defs>
<g id="vacuum">
  <path d="M199.2 477.8 Q200 470 202 466 Q206 458 210 452.6 Q215 445.6 220.4 442 Q224.4 440 228.4 440.6 Q233 441.4 235.6 445.4 Q240.4 453 239.4 458 Q238.8 464 236 468.4 Q233 473 229 475.6 Q226 481.6 223.6 486 L221 489.6 L218.4 484 Z" fill="url(#gVacW)" stroke="#d2d2da" stroke-width="0.6"/>
  <ellipse cx="227.4" cy="454.4" rx="5.2" ry="10.6" fill="#ffffff" stroke="#d4d4dc" stroke-width="0.8" transform="rotate(17 227.4 454.4)"/>
  <path d="M222.4 461 Q221 452 226.6 445" stroke="#c4c4cf" stroke-width="1.6" fill="none"/>
  <path d="M208.8 451.8 L214.2 449.8 L212.4 456 L208 457 Z" fill="#1a1a1a"/>
  <circle cx="205.4" cy="466.6" r="1.6" fill="#d9d9e0"/>
  <path d="M199.2 477.8 L218.4 484 Q218.6 489 217.6 494.6 Q216.6 499 213.2 503.4 L201 515.6 Q196 518 190.6 518.2 Q187.4 517.6 188 515.4 L191.4 498 Q194.6 486 199.2 477.8 Z" fill="url(#gVacD)"/>
  <circle cx="200.4" cy="481.4" r="1.1" fill="#e8e8e8"/>
</g>
<!-- icon: air purifier -->
<defs>
  <linearGradient id="gPurTop" x1="0" y1="0" x2="0" y2="1">
    <stop offset="0" stop-color="#3c3c3c"/>
    <stop offset="0.4" stop-color="#1d1d1d"/>
    <stop offset="1" stop-color="#141414"/>
  </linearGradient>
  <linearGradient id="gPurStrip" x1="0" y1="1" x2="1" y2="0">
    <stop offset="0" stop-color="#8e8e8e"/>
    <stop offset="0.6" stop-color="#d6d6d6"/>
    <stop offset="1" stop-color="#a4a4a4"/>
  </linearGradient>
</defs>
<g id="purifier">
  <path d="M566 493 L636 509.4 L654.6 489 L652 484 L566 488 Z" fill="#8c8c8c" filter="url(#fBlur1)"/>
  <!-- top glare haze -->
  <path d="M588 460.4 Q600 454.4 622 460 L640 466 L596 462 Z" fill="#6a6a6a" filter="url(#fBlur2)" opacity="0.8"/>
  <!-- faces -->
  <path d="M566.2 475.6 Q566 474 568 472.8 L591 459.4 Q593 458.2 596 458.6 L645 466.4 Q648.4 467 650 469.4 L651.2 472.4 L628 486.6 L568 476.6 Z" fill="url(#gPurTop)"/>
  <path d="M566.2 475.4 L627.6 486.4 L635.6 489 L636.4 506.6 L604.6 500.6 L568.4 491.4 Q566.8 490.8 566.8 489 Z" fill="#0d0d0d"/>
  <path d="M627.6 486.4 L651.2 472.4 L652.2 486 Q652 488 650.6 489.6 L638 505.4 Q637 506.6 636.4 506.6 L635.4 489 Z" fill="#181818"/>
  <path d="M627.4 486 L650.2 470.6 L651.8 473 L630.2 488.2 Z" fill="url(#gPurStrip)"/>
  <path d="M569 477.4 L626 487.6" stroke="#2e2e2e" stroke-width="0.8"/>
  <!-- lights -->
  <path d="M594.6 482 L605 495" stroke="#9fb4e8" stroke-width="1.2" opacity="0.75" filter="url(#fBlur1)"/>
  <circle cx="590.8" cy="487.4" r="1.3" fill="#3c58ff"/>
  <circle cx="592.4" cy="491.2" r="1.2" fill="#3c58ff"/>
  <circle cx="604.8" cy="489" r="1.3" fill="#3c58ff"/>
  <circle cx="606.4" cy="492.6" r="1.2" fill="#3c58ff"/>
  <circle cx="602.6" cy="495.6" r="1.3" fill="#3edc7a"/>
  <path d="M596 488.6 L601.6 489.6" stroke="#2c44d8" stroke-width="1.2"/>
</g>
<!-- icon: inflator -->
<g id="inflator">
  <path d="M380.9 556 L393.1 542.6 L395.8 540 L429 540 L431.6 542.6 L443 556 L442.2 599.5 L429 611.8 L397.5 611.8 L382.6 598.6 Z" fill="#1b1515"/>
  <rect x="404.4" y="538.6" width="3.8" height="1.8" rx="0.8" fill="#e48a1a"/>
  <rect x="417.4" y="538.6" width="3.8" height="1.8" rx="0.8" fill="#e48a1a"/>
  <path d="M396 540 L429 540 L427.4 557.6 L397.4 557.6 Z" fill="#ffdb08"/>
  <path d="M380.9 555.8 L393.1 542.6 L395 557.6 L382.6 597.8 L380.9 593 Z" fill="#fbd605"/>
  <path d="M431.6 542.6 L443 555.8 L442.5 593.4 L440.9 597.8 L429.9 557.6 Z" fill="#fbd605"/>
  <path d="M393 541.4 L396.4 541.4 L398.4 557.6 L397.6 604 L394.8 604 L394.6 557.6 Z" fill="#1f1a1a"/>
  <path d="M428.4 541.4 L431.8 541.4 L430.4 557.6 L430.2 604 L427.4 604 L426.6 557.6 Z" fill="#1f1a1a"/>
  <path d="M396.4 560 L396.4 600 M428.8 560 L428.8 600" stroke="#3a3232" stroke-width="0.7"/>
  <text x="400.2" y="550.6" font-size="3.8" font-weight="bold" font-style="italic" fill="#e03a1c" textLength="24.4" lengthAdjust="spacingAndGlyphs">Newmoto ER</text>
  <rect x="402.6" y="563.4" width="17.8" height="10.8" rx="0.8" fill="#e4f0fb" stroke="#bcd0e4" stroke-width="0.5"/>
  <g fill="#5a6a80">
    <rect x="405" y="566" width="2.4" height="1.2"/><rect x="414" y="565.6" width="2.4" height="1.2"/>
    <path d="M411 572.6 L412.4 568.6 L413.2 568.6 L411.8 572.6 Z M414 572.6 L415.4 568.6 L416.2 568.6 L414.8 572.6 Z"/>
  </g>
  <path d="M403.8 579.4 L406.6 577.2 L408 577.2 L408 582 L406.6 582 Z" fill="#f2cc10"/>
  <circle cx="411.4" cy="579.6" r="2.7" fill="#f2cc10"/>
  <path d="M419.4 579.4 L416.6 577.2 L415 577.2 L415 582 L416.6 582 Z" fill="#f2cc10"/>
  <circle cx="411.4" cy="579.6" r="0.9" fill="#8a6a10"/>
  <path d="M405.2 590.6 L417.8 590.6 Q418.2 594 416.6 597 L411.6 598.8 L406.4 597 Q404.8 594 405.2 590.6 Z" fill="#f2cc10"/>
  <path d="M408.6 593.6 L414.6 593.6 M409.6 595.6 L413.6 595.6" stroke="#3a2a10" stroke-width="0.8"/>
</g>
<!-- photo circle -->
<defs>
  <filter id="fSoft" x="-5%" y="-5%" width="110%" height="110%"><feGaussianBlur stdDeviation="0.55"/></filter>
  <clipPath id="cPhoto"><circle cx="85.5" cy="614.5" r="81.6"/></clipPath>
  <linearGradient id="gSkin1" x1="0" y1="0" x2="0" y2="1">
    <stop offset="0" stop-color="#f3c9ab"/>
    <stop offset="0.6" stop-color="#e6b08e"/>
    <stop offset="1" stop-color="#c98a68"/>
  </linearGradient>
  <linearGradient id="gSkin2" x1="0" y1="0" x2="1" y2="1">
    <stop offset="0" stop-color="#f0c3a3"/>
    <stop offset="0.6" stop-color="#e2aa88"/>
    <stop offset="1" stop-color="#b97c5c"/>
  </linearGradient>
  <linearGradient id="gCopper" x1="0" y1="0" x2="1" y2="0">
    <stop offset="0" stop-color="#4e2418"/>
    <stop offset="0.5" stop-color="#a4583c"/>
    <stop offset="1" stop-color="#5e2c1e"/>
  </linearGradient>
</defs>
<g id="photo" clip-path="url(#cPhoto)"><g filter="url(#fSoft)">
  <rect x="0" y="530" width="170" height="170" fill="#131313"/>
  <!-- upper background bits -->
  <path d="M0 560 L40 545 L70 535 L76 560 L74 578 L10 578 Z" fill="#2a2a2a"/>
  <path d="M105.2 538.6 L127.6 543.8 L130 551.4 L106.2 552.6 Z" fill="#b9b9b9"/>
  <path d="M106 547 L129 549 L130 551.4 L106.2 552.6 Z" fill="#8e8e8e"/>
  <path d="M88 545 L118 548 L118 598 L90 598 Z" fill="#1d1d1d"/>
  <path d="M96 556 L112 557 L114 584 L98 584 Z" fill="#2b2b2b"/>
  <path d="M78.8 557 L85.6 556 L101.4 594.2 L94.6 597.6 Z" fill="#9c9c9c"/>
  <path d="M92 584 L98 582 L101.4 594.2 L94.6 597.6 Z" fill="#d0d0d0"/>
  <!-- engine cover -->
  <path d="M6 596.6 L8 587 L13.6 577.4 L74.2 577.4 L75.4 596.6 Z" fill="#7e7e7e"/>
  <path d="M8 587.4 L75 587.4" stroke="#585858" stroke-width="1"/>
  <path d="M10 588 L10 596 M20 588 L20 596 M30 588 L30 596" stroke="#5a5a5a" stroke-width="0.8"/>
  <rect x="67" y="581" width="9" height="12" fill="#3a3a3a"/><rect x="69.4" y="583.4" width="4.4" height="5" fill="#a9a9a9"/>
  <path d="M0 597 L76 597 L76 604 L0 604 Z" fill="#242424"/>
  <!-- left dark parts -->
  <path d="M3 606 L18 605.6 L25 637 L9 642 L2 636 Z" fill="#2d2d2d"/>
  <path d="M5 613.6 L17 611.4" stroke="#8a8a8a" stroke-width="1.6"/>
  <!-- battery -->
  <path d="M33.8 619 L56.2 616.8 L144 616.8 L153 637 L31.5 637 Z" fill="#272727"/>
  <path d="M31.5 637 L153 637 L149.6 666.4 L38.2 668.6 Z" fill="#1a1a1a"/>
  <path d="M31.5 637.4 L153 637.4" stroke="#3b3b3b" stroke-width="1.2"/>
  <path d="M37 662 L150 659.6" stroke="#0c0c0c" stroke-width="1.4"/>
  <path d="M36 672 L146 669.6 L130 694 L50 694 Z" fill="#2a2a2a"/>
  <path d="M60 671.6 L60 675 L70 675 L70 671.4 Z M104 670.6 L104 674 L114 674 L114 670.4 Z" fill="#151515"/>
  <!-- right side bits -->
  <path d="M146 616 L158 612 L166 640 L156 656 L150 640 Z" fill="#202020"/>
  <path d="M148 628 L153 626 L155 640 L150 640 Z" fill="#a8a8a8"/>
  <path d="M153 646 L160 640 L162 646 L155 652 Z" fill="#e6e6e6"/>
  <!-- left clamp -->
  <path d="M38.2 596.6 L50.6 596.6 L48.4 619 L44 622 L37 621.4 L39.6 608 Z" fill="url(#gCopper)"/>
  <path d="M41 600 L44 618 M46.6 600 L45 616" stroke="#2e140c" stroke-width="0.9"/>
  <path d="M37 622.4 L50.6 625.8 L48.4 630.4 L38.2 629.2 Z" fill="#c2c2c2"/>
  <path d="M34 620 L40 618 L41 626 L35 626 Z" fill="#8d8d8d"/>
  <path d="M33.8 585.2 L40.4 579.6 L45 595.4 L38.8 597.8 Z" fill="#e23c2a"/>
  <path d="M52.2 574 L61.2 572.8 L55.8 597.6 L48.4 599.4 Z" fill="#e23c2a"/>
  <path d="M54 576 L51 597" stroke="#f26a55" stroke-width="1.2"/>
  <path d="M90 543.8 Q100 538 109 535.6" stroke="#e02e22" stroke-width="2" fill="none"/>
  <!-- left hand -->
  <path d="M24.8 568.4 L33.8 558.2 L51.8 544.8 L74.2 535.8 L99 534.6 L90 544.8 L78.8 553.8 L76.6 566 L75.4 571.8 L67.6 584.2 L60.8 576.2 L53 572.8 L39.4 582 L28.2 579.6 Q24 574 24.8 568.4 Z" fill="url(#gSkin1)"/>
  <path d="M30 572 L42 565 M36 578 L50 569 M60 575 Q66 570 68 562" stroke="#c4845f" stroke-width="1" fill="none"/>
  <!-- right clamp -->
  <path d="M127.2 604.4 L139.6 606.6 L137.2 625.8 L123.8 622.4 Z" fill="url(#gCopper)"/>
  <path d="M131 606 L128.6 622 M135.6 607 L133 624" stroke="#2e140c" stroke-width="0.9"/>
  <path d="M120.4 620.2 L126 617 L144 616.8 L146.2 625.8 L135 628 Z" fill="#cfcfcf"/>
  <path d="M129.4 549.2 L135 553.8 L146.2 559.4 L144 564 L132.8 561.6 Z" fill="#1b1b1b"/>
  <!-- right hand -->
  <path d="M122.6 568.4 L132.8 561.6 L144 562.8 L155.2 568.4 L165.4 594.2 L166 604 L144 605 L129.4 599.2 L120.4 587.6 L119.2 576.2 Z" fill="url(#gSkin2)"/>
  <path d="M121 577 L134 574 M121 584 L135 582 M124 591 L137 590" stroke="#b97a58" stroke-width="1" fill="none"/>
</g></g>
<circle cx="85.5" cy="614.5" r="81.9" fill="none" stroke="#8c2622" stroke-width="1.4"/>
<!-- bottom box -->
<g id="box">
<rect x="123.2" y="681.2" width="534" height="114" rx="25" ry="25" fill="#ffffff" stroke="#1672cf" stroke-width="2.6"/>
<circle cx="220.7" cy="729" r="43.4" fill="#ffffff" stroke="#8fd0e4" stroke-width="1.3"/>
<circle cx="404.8" cy="728.3" r="43.3" fill="#0b0b0b" stroke="#7fc4e0" stroke-width="1"/>
<circle cx="563.1" cy="729" r="43.4" fill="#e9e9e9" stroke="#8fd0e4" stroke-width="1.3"/>
</g>
<!-- box icons -->
<defs>
  <clipPath id="cCarBat"><circle cx="404.8" cy="728.3" r="42.8"/></clipPath>
  <radialGradient id="gLiBg" cx="0.5" cy="0.6" r="0.6">
    <stop offset="0" stop-color="#f6f6f6"/>
    <stop offset="1" stop-color="#dedede"/>
  </radialGradient>
</defs>
<g id="leadacid">
  <path d="M188.8 712.5 L240 703.8 L253.8 711.2 L202.5 721.2 Z" fill="#303030"/>
  <path d="M188.8 712.5 L202.5 721.2 L203.8 753.8 L190 743.8 Z" fill="#151515"/>
  <path d="M202.5 721.2 L253.8 711.2 L253.8 740 L203.8 753.8 Z" fill="#222222"/>
  <path d="M202.5 721.2 L253.8 711.2" stroke="#3f3f3f" stroke-width="0.7"/>
  <path d="M203 727 L253.8 716.6" stroke="#141414" stroke-width="0.8"/>
  <rect x="196.2" y="709.6" width="3.6" height="4.2" fill="#8e8e8e"/>
  <path d="M200 716.2 L206.2 715.4 L207 719.4 L200.6 720.2 Z" fill="#d8262a"/>
  <g fill="#c9c9c9">
    <path d="M206.4 732.6 L221.4 729.4 L221.4 730.8 L206.4 734 Z"/>
    <path d="M206.6 736.2 L224 732.4 L224 733.2 L206.6 737 Z" opacity="0.7"/>
    <path d="M206.8 742.2 L212 741 L212 743.6 L206.8 744.8 Z"/>
    <path d="M214 740.6 L218 739.6 L218 742.2 L214 743.2 Z" opacity="0.8"/>
    <path d="M220 739.2 L228 737.2 L228 739.4 L220 741.4 Z" opacity="0.6"/>
    <path d="M231 728 L250 723.8 L250 734.4 L231 739 Z" fill="none" stroke="#8a8a8a" stroke-width="0.5"/>
    <path d="M233 730.2 L248 727 M233 732.6 L248 729.4 M233 735 L248 731.8" stroke="#8a8a8a" stroke-width="0.5"/>
  </g>
</g>
<g id="carbattery" clip-path="url(#cCarBat)">
  <rect x="361" y="685" width="88" height="88" fill="#0c0c0c"/>
  <path d="M398 686 L424 688 L430 700 L426 722 L410 716 L400 700 Z" fill="#1c1c1c"/>
  <path d="M407 689.6 L424 690 L428 701 L412 702 Z" fill="#3c3c3c"/>
  <path d="M430 704 L446 714 L446 740 L436 730 Z" fill="#1a1a1a"/>
  <path d="M366 736 L390 728 L416 770 L380 772 Z" fill="#22100f"/>
  <path d="M372 744 L388 738 L408 766 L390 770 Z" fill="#3a1517"/>
  <!-- battery body -->
  <path d="M372.2 720.6 L395.6 712.6 L442.5 739.4 L423 760.4 Z" fill="#1d1d1d" stroke="#3a3a3a" stroke-width="0.8"/>
  <path d="M372.2 720.6 L423 760.4 L422 769 L371.6 730 Z" fill="#111111"/>
  <path d="M423 760.4 L442.5 739.4 L442 748 L422 769 Z" fill="#181818"/>
  <!-- labels -->
  <path d="M397.5 720.8 L408.8 715 L418.4 722.6 L408 729 Z" fill="#cf3b40"/>
  <path d="M408 729 L418.4 722.6 L427.5 730 L418.2 737.6 Z" fill="#eeeeee"/>
  <path d="M401 721.4 L408 717.8 M403 723.2 L410 719.4" stroke="#f3c9c9" stroke-width="0.8"/>
  <path d="M413 729.4 L420 725 M415.4 731.4 L422.4 727 M417.8 733.4 L424.6 729.2" stroke="#5a7fb0" stroke-width="0.7"/>
  <path d="M377.8 719.8 L386.2 718.6 L399.4 731.8 L392 735.8 Z" fill="#dadada"/>
  <path d="M381 721.4 L385 721 L389 725 L385 726.4 Z M388 727.6 L392 726.6 L395.4 730.4 L392 732.4 Z" fill="#1a1a1a"/>
  <path d="M402.2 737.4 L410.6 735.6 L423.8 748.8 L416.2 753.4 Z" fill="#d4d4d4"/>
  <path d="M405.4 739 L409.4 738.4 L413.4 742.6 L409.6 744 Z M412.4 745 L416.2 744 L419.6 748 L416.4 750 Z" fill="#1a1a1a"/>
  <circle cx="423.8" cy="738.4" r="2.9" fill="#2ccf8c"/><circle cx="423.8" cy="738.4" r="1.2" fill="#d6ffe9"/>
  <!-- terminals & clamp -->
  <path d="M380.6 700 L390 698 L392 705.6 L386.2 713.2 L381.6 710.4 L384.6 705 Z" fill="#e23a3c"/>
  <circle cx="391.8" cy="709.6" r="2.9" fill="#b9b9b3" stroke="#55554f" stroke-width="0.6"/>
  <path d="M372 700 Q378 704 384 704" stroke="#2a2a2a" stroke-width="3" fill="none"/>
  <circle cx="369.6" cy="724.4" r="2.4" fill="none" stroke="#c9b64a" stroke-width="1.2"/>
  <path d="M432 731 L437 729.4 L439 733 L436.6 736 L439.4 739 L436 742 L431.6 739.6 L433.6 735.6 Z" fill="#c8c8c0" stroke="#6a6a64" stroke-width="0.5"/>
  <path d="M428 744 L426 760" stroke="#8a8a84" stroke-width="0.9"/>
  <path d="M434 716 L436 724" stroke="#6a6a6a" stroke-width="1"/>
</g>
<circle cx="404.8" cy="728.3" r="43.2" fill="none" stroke="#6fb4d8" stroke-width="0.9" opacity="0.8"/>
<g id="lithium">
  <circle cx="563.1" cy="729" r="42.8" fill="url(#gLiBg)"/>
  <path d="M546.2 707.6 Q547 704.6 553 704.2 L568.8 703.6 Q573.6 703.8 574.6 706.4" stroke="#141414" stroke-width="1.6" fill="none"/>
  <path d="M532.8 710.6 L592.4 706 L593.6 750 L538.4 757.8 L532.8 754.4 Z" fill="#131313"/>
  <path d="M532.8 710.6 L538 711.6 L538.4 757.8 L532.8 754.4 Z" fill="#2c2c2c"/>
  <path d="M545.8 717.2 L553.8 716.8 L553.8 751 L545.8 752.2 Z" fill="#f6f6f6"/>
  <path d="M559.8 715.2 L567.6 714.8 L567.8 748.6 L560 749.6 Z" fill="#2b2b2b"/>
  <path d="M560 722 L567.6 721.6 M560 729 L567.7 728.6 M560 736 L567.7 735.4 M560 743 L567.8 742.2" stroke="#111" stroke-width="0.7"/>
  <ellipse cx="576.8" cy="717.2" rx="3" ry="2.2" fill="#3a62c8" stroke="#e6ecff" stroke-width="0.6"/>
  <g fill="#d9d9d9">
    <rect x="574" y="722" width="5.6" height="1.4"/>
    <rect x="573.6" y="726.6" width="6.4" height="2.6"/>
    <rect x="573.6" y="730.4" width="6.4" height="2.6"/>
    <rect x="573.6" y="734.2" width="6.4" height="2.6"/>
    <rect x="573.6" y="738" width="6.4" height="2.6"/>
    <rect x="573.6" y="741.8" width="6.4" height="2.6"/>
    <rect x="569.6" y="728" width="1.4" height="14" opacity="0.6"/>
  </g>
  <circle cx="531" cy="718.4" r="1.7" fill="#c99a3a"/><path d="M528 718.4 L531 718.4" stroke="#c99a3a" stroke-width="1"/>
  <circle cx="533" cy="749.2" r="1.9" fill="#b8282a"/><circle cx="531.4" cy="749.2" r="1.3" fill="#c99a3a"/>
  <path d="M540 722 L541.6 722 L541.6 735 L540 735 Z" fill="#3e5a9a"/>
</g>
<circle cx="563.1" cy="729" r="43.4" fill="none" stroke="#8fd0e4" stroke-width="1.3"/>
<!-- labels -->
<defs>
<mask id="ml13" maskUnits="userSpaceOnUse" x="299" y="182" width="61" height="32"><text x="303.67" y="205.4" font-size="23.2" fill="#fff" stroke="#fff" stroke-width="0.56" textLength="51.76" lengthAdjust="spacingAndGlyphs">Car</text></mask>
<mask id="ml14" maskUnits="userSpaceOnUse" x="353" y="182" width="129" height="32"><text x="357.84" y="205.4" font-size="23.2" fill="#fff" stroke="#fff" stroke-width="0.56" textLength="120.76" lengthAdjust="spacingAndGlyphs">insulation</text></mask>
<mask id="ml15" maskUnits="userSpaceOnUse" x="477" y="182" width="57" height="32"><text x="481.79" y="205.4" font-size="23.2" fill="#fff" stroke="#fff" stroke-width="0.56" textLength="48.29" lengthAdjust="spacingAndGlyphs">cup</text></mask>
<mask id="ml16" maskUnits="userSpaceOnUse" x="42" y="290" width="99" height="32"><text x="45.76" y="312.9" font-size="23.2" fill="#fff" stroke="#fff" stroke-width="0.56" textLength="91.23" lengthAdjust="spacingAndGlyphs">Driving</text></mask>
<mask id="ml17" maskUnits="userSpaceOnUse" x="136" y="290" width="129" height="32"><text x="140.37" y="312.9" font-size="23.2" fill="#fff" stroke="#fff" stroke-width="0.56" textLength="120.97" lengthAdjust="spacingAndGlyphs">recorder</text></mask>
<mask id="ml18" maskUnits="userSpaceOnUse" x="557" y="290" width="61" height="32"><text x="562.06" y="312.9" font-size="23.2" fill="#fff" stroke="#fff" stroke-width="0.56" textLength="51.87" lengthAdjust="spacingAndGlyphs">Car</text></mask>
<mask id="ml19" maskUnits="userSpaceOnUse" x="612" y="290" width="81" height="32"><text x="615.84" y="312.9" font-size="23.2" fill="#fff" stroke="#fff" stroke-width="0.56" textLength="72.48" lengthAdjust="spacingAndGlyphs">razor</text></mask>
<mask id="ml20" maskUnits="userSpaceOnUse" x="143" y="531" width="60" height="32"><text x="147.48" y="554.5" font-size="23.2" fill="#fff" stroke="#fff" stroke-width="0.56" textLength="50.97" lengthAdjust="spacingAndGlyphs">Car</text></mask>
<mask id="ml21" maskUnits="userSpaceOnUse" x="196" y="531" width="121" height="32"><text x="201.33" y="554.5" font-size="23.2" fill="#fff" stroke="#fff" stroke-width="0.56" textLength="111.90" lengthAdjust="spacingAndGlyphs">cleaners</text></mask>
<mask id="ml22" maskUnits="userSpaceOnUse" x="566" y="531" width="45" height="32"><text x="570.97" y="554.5" font-size="23.2" fill="#fff" stroke="#fff" stroke-width="0.56" textLength="35.18" lengthAdjust="spacingAndGlyphs">air</text></mask>
<mask id="ml23" maskUnits="userSpaceOnUse" x="604" y="531" width="102" height="32"><text x="608.69" y="554.5" font-size="23.2" fill="#fff" stroke="#fff" stroke-width="0.56" textLength="92.37" lengthAdjust="spacingAndGlyphs">purifier</text></mask>
<mask id="ml24" maskUnits="userSpaceOnUse" x="365" y="635" width="102" height="32"><text x="368.15" y="658.2" font-size="23.2" fill="#fff" stroke="#fff" stroke-width="0.56" textLength="93.21" lengthAdjust="spacingAndGlyphs">Inflator</text></mask>
<mask id="ml25" maskUnits="userSpaceOnUse" x="139" y="773" width="93" height="21"><text x="144.14" y="787.9" font-size="15.0" fill="#fff" stroke="#fff" stroke-width="0.60" textLength="83.86" lengthAdjust="spacingAndGlyphs">Lead-acid</text></mask>
<mask id="ml26" maskUnits="userSpaceOnUse" x="226" y="773" width="91" height="21"><text x="230.35" y="787.9" font-size="15.0" fill="#fff" stroke="#fff" stroke-width="0.60" textLength="81.62" lengthAdjust="spacingAndGlyphs">batteries</text></mask>
<mask id="ml27" maskUnits="userSpaceOnUse" x="345" y="773" width="46" height="21"><text x="349.65" y="787.9" font-size="15.0" fill="#fff" stroke="#fff" stroke-width="0.60" textLength="36.26" lengthAdjust="spacingAndGlyphs">Car</text></mask>
<mask id="ml28" maskUnits="userSpaceOnUse" x="382" y="773" width="79" height="21"><text x="386.62" y="787.9" font-size="15.0" fill="#fff" stroke="#fff" stroke-width="0.60" textLength="69.43" lengthAdjust="spacingAndGlyphs">Battery</text></mask>
<mask id="ml29" maskUnits="userSpaceOnUse" x="487" y="773" width="73" height="21"><text x="491.91" y="787.9" font-size="15.0" fill="#fff" stroke="#fff" stroke-width="0.60" textLength="63.87" lengthAdjust="spacingAndGlyphs">Lithium</text></mask>
<mask id="ml30" maskUnits="userSpaceOnUse" x="552" y="773" width="79" height="21"><text x="556.83" y="787.9" font-size="15.0" fill="#fff" stroke="#fff" stroke-width="0.60" textLength="69.09" lengthAdjust="spacingAndGlyphs">battery</text></mask>
</defs>
<g id="labels">
<text x="302.46" y="205.4" font-size="23.2" fill="#0c0c0c" stroke="#0c0c0c" stroke-width="0.56" textLength="51.76" lengthAdjust="spacingAndGlyphs" mask="url(#ml13)">Car</text>
<text x="356.96" y="205.4" font-size="23.2" fill="#0c0c0c" stroke="#0c0c0c" stroke-width="0.56" textLength="120.76" lengthAdjust="spacingAndGlyphs" mask="url(#ml14)">insulation</text>
<text x="480.87" y="205.4" font-size="23.2" fill="#0c0c0c" stroke="#0c0c0c" stroke-width="0.56" textLength="48.29" lengthAdjust="spacingAndGlyphs" mask="url(#ml15)">cup</text>
<text x="44.84" y="312.9" font-size="23.2" fill="#0c0c0c" stroke="#0c0c0c" stroke-width="0.56" textLength="91.23" lengthAdjust="spacingAndGlyphs" mask="url(#ml16)">Driving</text>
<text x="139.02" y="312.9" font-size="23.2" fill="#0c0c0c" stroke="#0c0c0c" stroke-width="0.56" textLength="120.97" lengthAdjust="spacingAndGlyphs" mask="url(#ml17)">recorder</text>
<text x="560.84" y="312.9" font-size="23.2" fill="#0c0c0c" stroke="#0c0c0c" stroke-width="0.56" textLength="51.87" lengthAdjust="spacingAndGlyphs" mask="url(#ml18)">Car</text>
<text x="614.64" y="312.9" font-size="23.2" fill="#0c0c0c" stroke="#0c0c0c" stroke-width="0.56" textLength="72.48" lengthAdjust="spacingAndGlyphs" mask="url(#ml19)">razor</text>
<text x="146.32" y="554.5" font-size="23.2" fill="#0c0c0c" stroke="#0c0c0c" stroke-width="0.56" textLength="50.97" lengthAdjust="spacingAndGlyphs" mask="url(#ml20)">Car</text>
<text x="200.31" y="554.5" font-size="23.2" fill="#0c0c0c" stroke="#0c0c0c" stroke-width="0.56" textLength="111.90" lengthAdjust="spacingAndGlyphs" mask="url(#ml21)">cleaners</text>
<text x="569.85" y="554.5" font-size="23.2" fill="#0c0c0c" stroke="#0c0c0c" stroke-width="0.56" textLength="35.18" lengthAdjust="spacingAndGlyphs" mask="url(#ml22)">air</text>
<text x="607.60" y="554.5" font-size="23.2" fill="#0c0c0c" stroke="#0c0c0c" stroke-width="0.56" textLength="92.37" lengthAdjust="spacingAndGlyphs" mask="url(#ml23)">purifier</text>
<text x="367.05" y="658.2" font-size="23.2" fill="#0c0c0c" stroke="#0c0c0c" stroke-width="0.56" textLength="93.21" lengthAdjust="spacingAndGlyphs" mask="url(#ml24)">Inflator</text>
<text x="143.44" y="787.9" font-size="15.0" fill="#0c0c0c" stroke="#0c0c0c" stroke-width="0.60" textLength="83.86" lengthAdjust="spacingAndGlyphs" mask="url(#ml25)">Lead-acid</text>
<text x="229.35" y="787.9" font-size="15.0" fill="#0c0c0c" stroke="#0c0c0c" stroke-width="0.60" textLength="81.62" lengthAdjust="spacingAndGlyphs" mask="url(#ml26)">batteries</text>
<text x="348.61" y="787.9" font-size="15.0" fill="#0c0c0c" stroke="#0c0c0c" stroke-width="0.60" textLength="36.26" lengthAdjust="spacingAndGlyphs" mask="url(#ml27)">Car</text>
<text x="385.54" y="787.9" font-size="15.0" fill="#0c0c0c" stroke="#0c0c0c" stroke-width="0.60" textLength="69.43" lengthAdjust="spacingAndGlyphs" mask="url(#ml28)">Battery</text>
<text x="491.14" y="787.9" font-size="15.0" fill="#0c0c0c" stroke="#0c0c0c" stroke-width="0.60" textLength="63.87" lengthAdjust="spacingAndGlyphs" mask="url(#ml29)">Lithium</text>
<text x="555.66" y="787.9" font-size="15.0" fill="#0c0c0c" stroke="#0c0c0c" stroke-width="0.60" textLength="69.09" lengthAdjust="spacingAndGlyphs" mask="url(#ml30)">battery</text>
</g>
</svg>
</body>
</html>
